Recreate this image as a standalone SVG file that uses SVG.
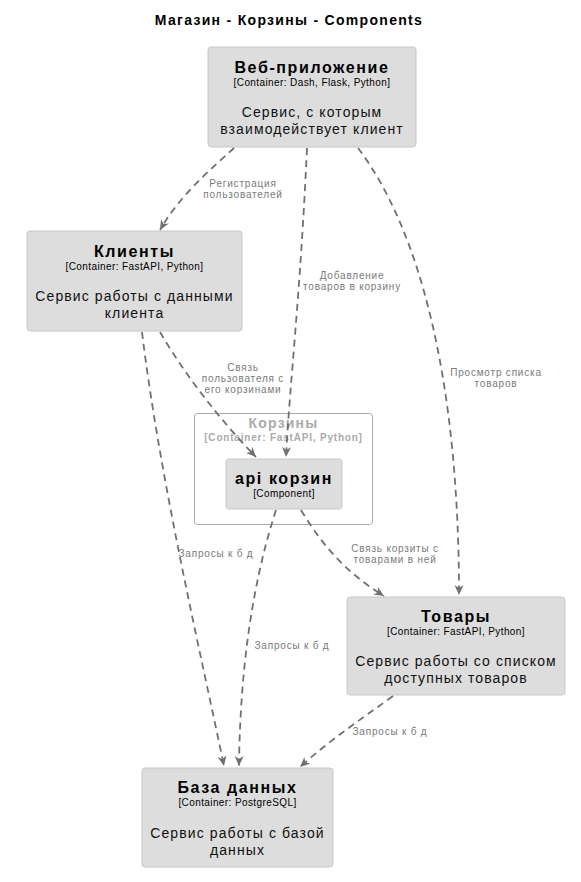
<svg xmlns="http://www.w3.org/2000/svg" width="581" height="882" viewBox="0 0 581 882">
<defs>
<style>
text{font-family:"Liberation Sans",Arial,sans-serif;text-anchor:middle}
.ttl{font-size:14px;font-weight:bold;letter-spacing:1.3px;fill:#000}
.node{fill:#dddddd;stroke:#c8c8c8;stroke-width:1}
.bnd{fill:none;stroke:#aaaaaa;stroke-width:1}
.nm{font-size:16px;font-weight:bold;letter-spacing:1.6px;fill:#000}
.st{font-size:10px;letter-spacing:0.4px;fill:#000}
.ds{font-size:14px;letter-spacing:1.1px;fill:#111}
.bnm{font-size:14px;font-weight:bold;letter-spacing:1.2px;fill:#aaaaaa}
.bst{font-size:10px;font-weight:bold;letter-spacing:0.8px;fill:#aaaaaa}
.lbl{font-size:10px;letter-spacing:0.8px;fill:#7a7a7a}
.edge{fill:none;stroke:#707070;stroke-width:1.8;stroke-dasharray:7,5;marker-end:url(#arr)}
</style>
<marker id="arr" markerUnits="userSpaceOnUse" markerWidth="12" markerHeight="10" refX="10" refY="5" orient="auto">
<path d="M0,0.5 L10,5 L0,9.5 L3,5 Z" fill="#707070"/>
</marker>
</defs>
<rect width="581" height="882" fill="#ffffff"/>
<text class="ttl" x="289" y="25">Магазин - Корзины - Components</text>

<g id="web">
<rect class="node" x="208" y="47" width="208" height="100" rx="3"/>
<text class="nm" x="312" y="73">Веб-приложение</text>
<text class="st" x="312" y="86">[Container: Dash, Flask, Python]</text>
<text class="ds" x="312" y="117">Сервис, с которым</text>
<text class="ds" x="312" y="134">взаимодействует клиент</text>
</g>

<g id="clients">
<rect class="node" x="27" y="231" width="215" height="100" rx="3"/>
<text class="nm" x="134.5" y="257">Клиенты</text>
<text class="st" x="134.5" y="270">[Container: FastAPI, Python]</text>
<text class="ds" x="134.5" y="301">Сервис работы с данными</text>
<text class="ds" x="134.5" y="318">клиента</text>
</g>

<g id="carts">
<rect class="bnd" x="194.5" y="413.5" width="178" height="111" rx="3"/>
<text class="bnm" x="283.5" y="428">Корзины</text>
<text class="bst" x="283.5" y="441">[Container: FastAPI, Python]</text>
</g>

<g id="cartapi">
<rect class="node" x="226" y="459" width="116" height="50" rx="3"/>
<text class="nm" x="284" y="484">api корзин</text>
<text class="st" x="284" y="497">[Component]</text>
</g>

<g id="goods">
<rect class="node" x="347" y="597" width="218" height="98" rx="3"/>
<text class="nm" x="456" y="622">Товары</text>
<text class="st" x="456" y="635">[Container: FastAPI, Python]</text>
<text class="ds" x="456" y="666">Сервис работы со списком</text>
<text class="ds" x="456" y="683">доступных товаров</text>
</g>

<g id="db">
<rect class="node" x="142" y="768" width="191" height="99" rx="3"/>
<text class="nm" x="237.5" y="793">База данных</text>
<text class="st" x="237.5" y="806">[Container: PostgreSQL]</text>
<text class="ds" x="237.5" y="838">Сервис работы с базой</text>
<text class="ds" x="237.5" y="855">данных</text>
</g>

<g id="connectors">
<path class="edge" d="M234,148 C210,170 180,195 160,230"/>
<path class="edge" d="M307,148 C300,300 290,380 286,457"/>
<path class="edge" d="M358,148 C420,230 459,380 459,595"/>
<path class="edge" d="M160,332 C185,375 220,420 256,457"/>
<path class="edge" d="M142,332 C160,480 200,650 224,766"/>
<path class="edge" d="M276,510 C250,590 240,680 239,766"/>
<path class="edge" d="M301,510 C325,550 350,575 384,596"/>
<path class="edge" d="M393,696 C360,720 330,740 300,767"/>
<text class="lbl" x="243" y="187">Регистрация</text>
<text class="lbl" x="243" y="198">пользователей</text>
<text class="lbl" x="352" y="279">Добавление</text>
<text class="lbl" x="352" y="290">товаров в корзину</text>
<text class="lbl" x="496" y="376">Просмотр списка</text>
<text class="lbl" x="496" y="387">товаров</text>
<text class="lbl" x="243" y="371">Связь</text>
<text class="lbl" x="243" y="382">пользователя с</text>
<text class="lbl" x="243" y="393">его корзинами</text>
<text class="lbl" x="216" y="557">Запросы к б д</text>
<text class="lbl" x="292" y="649">Запросы к б д</text>
<text class="lbl" x="395" y="552">Связь корзиты с</text>
<text class="lbl" x="395" y="563">товарами в ней</text>
<text class="lbl" x="390" y="735">Запросы к б д</text>
</g>
</svg>
